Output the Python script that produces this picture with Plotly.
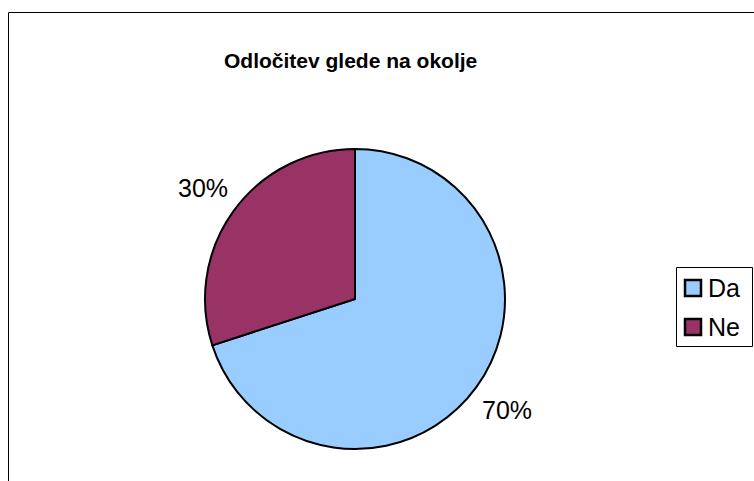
import math
import plotly.graph_objects as go

# Survey answers and their shares (percent)
labels = ["Da", "Ne"]
values = [70, 30]
colors = ["#99CCFF", "#993366"]
title_text = "Odločitev glede na okolje"

W, H = 754, 481
FONT = "Arial, Liberation Sans, sans-serif"

# pie geometry in pixels
cx, cy, R = 355, 299, 150
label_r = 188


def px(x):
    return x / W


def py(y):
    return 1 - y / H


fig = go.Figure(
    go.Pie(
        labels=labels,
        values=values,
        marker=dict(colors=colors, line=dict(color="black", width=2)),
        sort=False,
        direction="clockwise",
        rotation=0,
        textinfo="none",
        hoverinfo="label+percent",
        showlegend=False,
        domain=dict(x=[px(cx - R), px(cx + R)], y=[py(cy + R), py(cy - R)]),
    )
)

annotations = []
# percentage labels placed outside each slice at its mid-angle
total = sum(values)
start = 0.0
for v in values:
    frac = v / total
    mid = (start + frac / 2) * 2 * math.pi
    x = cx + label_r * math.sin(mid)
    y = cy - label_r * math.cos(mid)
    annotations.append(
        dict(
            x=px(x), y=py(y), xref="paper", yref="paper",
            text=f"{round(frac * 100)}%", showarrow=False,
            xanchor="center", yanchor="middle",
            font=dict(family=FONT, size=25, color="black"),
        )
    )
    start += frac

# title
annotations.append(
    dict(
        x=px(350), y=py(60), xref="paper", yref="paper",
        text=f"<b>{title_text}</b>", showarrow=False,
        xanchor="center", yanchor="middle",
        font=dict(family=FONT, size=21, color="black"),
    )
)

shapes = [
    # outer chart border (right and bottom edges fall outside the page)
    dict(type="rect", xref="paper", yref="paper",
         x0=px(8.5), x1=px(W + 20), y0=py(H + 20), y1=py(12.5),
         line=dict(color="black", width=1), fillcolor="rgba(0,0,0,0)"),
    # legend frame
    dict(type="rect", xref="paper", yref="paper",
         x0=px(676.5), x1=px(752.5), y0=py(346.5), y1=py(267.5),
         line=dict(color="black", width=1), fillcolor="white"),
]

# legend entries
row_y0, row_gap, sw = 288, 39, 16
for i, (lab, col) in enumerate(zip(labels, colors)):
    yc = row_y0 + i * row_gap
    shapes.append(
        dict(type="rect", xref="paper", yref="paper",
             x0=px(685), x1=px(685 + sw), y0=py(yc + sw / 2), y1=py(yc - sw / 2),
             line=dict(color="black", width=2.5), fillcolor=col)
    )
    annotations.append(
        dict(x=px(706), y=py(yc), xref="paper", yref="paper",
             text=lab, showarrow=False, xanchor="left", yanchor="middle",
             font=dict(family=FONT, size=25, color="black"))
    )

fig.update_layout(
    width=W, height=H,
    margin=dict(l=0, r=0, t=0, b=0),
    paper_bgcolor="white",
    plot_bgcolor="white",
    annotations=annotations,
    shapes=shapes,
    showlegend=False,
)

fig.write_html("out.html")
